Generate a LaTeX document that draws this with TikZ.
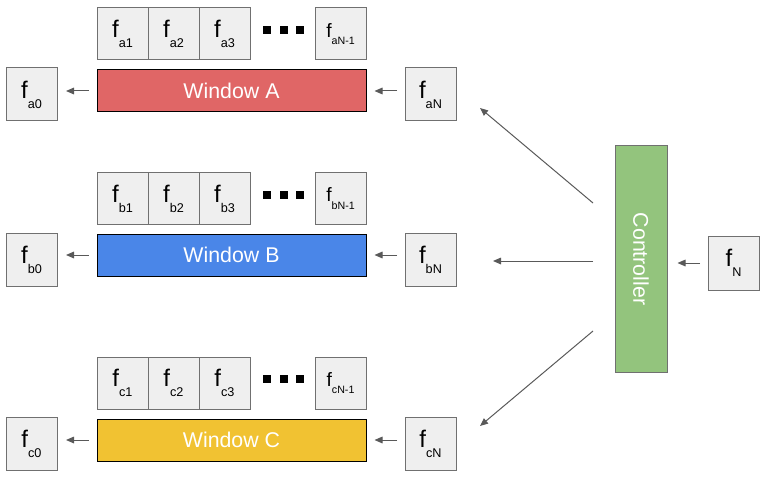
\documentclass[tikz,border=0pt]{standalone}
\usepackage{fontspec}
\setmainfont{Liberation Sans}
\usetikzlibrary{arrows.meta,positioning}
\definecolor{cellgray}{HTML}{EFEFEF}
\definecolor{edgegray}{HTML}{707070}
\definecolor{arrowgray}{HTML}{595959}
\definecolor{winred}{HTML}{E06666}
\definecolor{winblue}{HTML}{4A86E8}
\definecolor{winyellow}{HTML}{F1C232}
\definecolor{ctrlgreen}{HTML}{93C47D}
\newcommand{\fval}[1]{{\fontsize{18}{18}\selectfont f}\raisebox{-7.5pt}{\fontsize{9.5}{10}\selectfont #1}}
\newcommand{\flast}[1]{{\fontsize{14.5}{15}\selectfont f}\raisebox{-5.5pt}{\fontsize{8}{8}\selectfont #1}}
\tikzset{
  cellbox/.style={draw=edgegray,fill=cellgray,line width=0.75pt,minimum width=38.25pt,
    minimum height=39pt,inner sep=0pt,outer sep=0pt},
  endbox/.style={cellbox,minimum height=39.75pt},
  winbox/.style={draw=black,line width=0.75pt,minimum width=201.75pt,minimum height=31.5pt,
    inner sep=0pt,text=white,font=\fontsize{16}{16}\selectfont},
  ctrlbox/.style={draw=edgegray,fill=ctrlgreen,line width=0.75pt,minimum width=169.5pt,
    minimum height=39pt,inner sep=0pt,text=white,font=\fontsize{16}{16}\selectfont},
  dotbox/.style={fill=black,minimum size=6pt,inner sep=0pt},
  flowarrow/.style={-{Triangle[length=6pt,width=5pt]},draw=arrowgray,line width=0.75pt}
}
\begin{document}
\begin{tikzpicture}[x=0.75pt,y=-0.75pt,node distance=0pt]
  \useasboundingbox (0,0) rectangle (766,477);
  % window A
  \node[cellbox] (a1) at (122.5,34) {\fval{a1}};
  \node[cellbox,right=of a1] (a2) {\fval{a2}};
  \node[cellbox,right=of a2] (a3) {\fval{a3}};
  \node[dotbox] (ad1) at (267,30) {};
  \node[dotbox,right=6pt of ad1] (ad2) {};
  \node[dotbox,right=6pt of ad2] (ad3) {};
  \node[cellbox] (aN1) at (340.5,34) {\flast{aN-1}};
  \node[winbox,fill=winred] (winA) at (231.5,91) {Window A};
  \node[endbox] (a0) at (31.5,94.5) {\fval{a0}};
  \node[endbox] (aN) at (430.5,94.5) {\fval{aN}};
  \draw[flowarrow,shorten <=6pt,shorten >=6.75pt] (winA.west) -- (winA.west -| a0.east);
  \draw[flowarrow,shorten <=6pt,shorten >=6pt] (aN.west |- winA.east) -- (winA.east);
  % window B
  \node[cellbox] (b1) at (122.5,198.5) {\fval{b1}};
  \node[cellbox,right=of b1] (b2) {\fval{b2}};
  \node[cellbox,right=of b2] (b3) {\fval{b3}};
  \node[dotbox] (bd1) at (267,195) {};
  \node[dotbox,right=6pt of bd1] (bd2) {};
  \node[dotbox,right=6pt of bd2] (bd3) {};
  \node[cellbox] (bN1) at (340.5,198.5) {\flast{bN-1}};
  \node[winbox,fill=winblue] (winB) at (231.5,255) {Window B};
  \node[endbox] (b0) at (31.5,259.5) {\fval{b0}};
  \node[endbox] (bN) at (430.5,259.5) {\fval{bN}};
  \draw[flowarrow,shorten <=6pt,shorten >=6.75pt] (winB.west) -- (winB.west -| b0.east);
  \draw[flowarrow,shorten <=6pt,shorten >=6pt] (bN.west |- winB.east) -- (winB.east);
  % window C
  \node[cellbox] (c1) at (122.5,383) {\fval{c1}};
  \node[cellbox,right=of c1] (c2) {\fval{c2}};
  \node[cellbox,right=of c2] (c3) {\fval{c3}};
  \node[dotbox] (cd1) at (267,379) {};
  \node[dotbox,right=6pt of cd1] (cd2) {};
  \node[dotbox,right=6pt of cd2] (cd3) {};
  \node[cellbox] (cN1) at (340.5,383) {\flast{cN-1}};
  \node[winbox,fill=winyellow] (winC) at (231.5,440) {Window C};
  \node[endbox] (c0) at (31.5,443.5) {\fval{c0}};
  \node[endbox] (cN) at (430.5,443.5) {\fval{cN}};
  \draw[flowarrow,shorten <=6pt,shorten >=6.75pt] (winC.west) -- (winC.west -| c0.east);
  \draw[flowarrow,shorten <=6pt,shorten >=6pt] (cN.west |- winC.east) -- (winC.east);
  % controller
  \node[ctrlbox,rotate=-90] (ctrl) at (641,259) {Controller};
  \node[endbox,minimum height=40.5pt] (fN) at (733.5,263) {\fval{N}};
  \draw[flowarrow,shorten <=6pt,shorten >=7.5pt] (fN.west) -- (fN.west -| ctrl.north);
  \coordinate (outA) at (593,203);
  \coordinate (inA) at (480,108);
  \coordinate (outB) at (593,261);
  \coordinate (inB) at (493,261);
  \coordinate (outC) at (593,331);
  \coordinate (inC) at (480,426);
  \draw[flowarrow] (outA) -- (inA);
  \draw[flowarrow] (outB) -- (inB);
  \draw[flowarrow] (outC) -- (inC);
\end{tikzpicture}
\end{document}
